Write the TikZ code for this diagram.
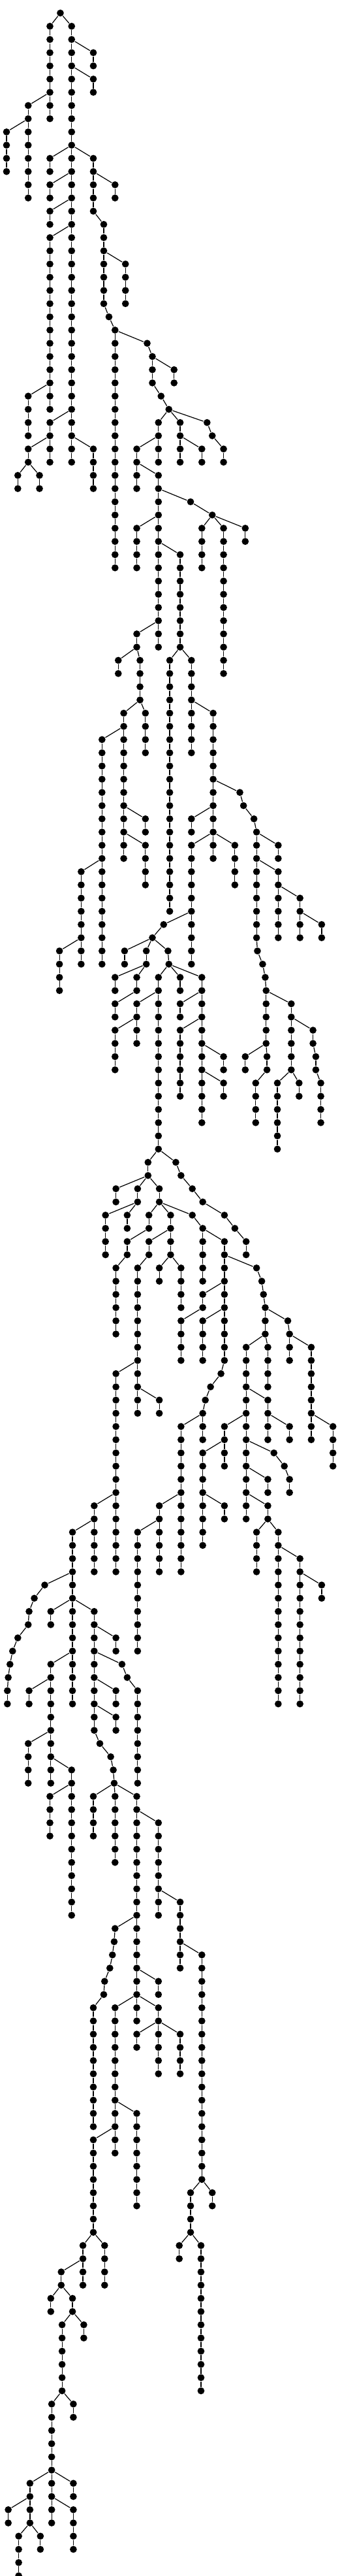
\documentclass[tikz,border=0pt]{standalone}
\tikzset{dot/.style={circle,fill=black,draw=none,inner sep=0pt,minimum size=0.107cm},
  edge/.style={line width=0.35pt,black}}
\newcommand\seg[4]{%
  \foreach \r in {#3,...,#4}{%
    \pgfmathtruncatemacro\rp{\r-1}%
    \ifnum\r=#3\relax \def\pp{#1}\else \def\pp{#2}\fi
    \node[dot] (v#2-\r) at (#2,\r+0.4934) {};
    \draw[edge] (v\pp-\rp) -- (v#2-\r);
  }%
}
\begin{document}
\begin{tikzpicture}[x=0.0033333cm,y=-0.20266cm]
\useasboundingbox (0,-0.4934) rectangle (1566,194.513);
\node[dot] (v278-0) at (278,0.4934) {};
\seg{278}{230}{1}{8}
\seg{230}{130}{7}{14}
\seg{130}{30}{9}{12}
\seg{278}{330}{1}{34}
\seg{330}{430}{3}{4}
\seg{330}{430}{5}{6}
\seg{330}{230}{11}{12}
\seg{330}{430}{11}{15}
\seg{430}{530}{13}{14}
\seg{330}{230}{13}{14}
\seg{330}{230}{15}{16}
\seg{330}{230}{17}{30}
\seg{230}{130}{29}{32}
\seg{330}{230}{31}{34}
\seg{230}{130}{33}{34}
\seg{130}{82}{35}{36}
\seg{130}{182}{35}{36}
\seg{330}{430}{33}{36}
\seg{430}{478}{16}{22}
\seg{478}{578}{19}{22}
\seg{478}{502}{23}{23}
\seg{502}{530}{24}{42}
\seg{530}{678}{25}{25}
\seg{678}{702}{26}{28}
\seg{702}{802}{27}{28}
\seg{702}{742}{29}{29}
\seg{742}{778}{30}{30}
\seg{778}{730}{31}{34}
\seg{778}{830}{31}{34}
\seg{830}{930}{33}{34}
\seg{778}{954}{31}{31}
\seg{954}{978}{32}{32}
\seg{978}{1030}{33}{34}
\seg{730}{630}{33}{36}
\seg{630}{730}{35}{48}
\seg{730}{878}{37}{37}
\seg{878}{978}{38}{38}
\seg{978}{930}{39}{42}
\seg{978}{1030}{39}{50}
\seg{978}{1130}{39}{40}
\seg{730}{630}{39}{42}
\seg{730}{830}{41}{48}
\seg{730}{630}{47}{48}
\seg{630}{545}{49}{50}
\seg{630}{645}{49}{52}
\seg{830}{782}{49}{68}
\seg{830}{882}{49}{56}
\seg{645}{570}{53}{64}
\seg{645}{670}{53}{56}
\seg{570}{470}{55}{72}
\seg{570}{670}{61}{62}
\seg{570}{670}{63}{66}
\seg{470}{374}{65}{72}
\seg{374}{274}{71}{74}
\seg{882}{982}{53}{64}
\seg{982}{1105}{59}{59}
\seg{1105}{1122}{60}{60}
\seg{1122}{1170}{61}{61}
\seg{1170}{1182}{62}{70}
\seg{1182}{1282}{63}{64}
\seg{1182}{1282}{65}{70}
\seg{1282}{1382}{67}{70}
\seg{1382}{1482}{69}{70}
\seg{982}{882}{61}{62}
\seg{982}{882}{63}{72}
\seg{982}{1082}{63}{66}
\seg{1182}{1186}{71}{71}
\seg{1186}{1210}{72}{72}
\seg{1210}{1222}{73}{73}
\seg{1222}{1226}{74}{78}
\seg{1226}{1342}{75}{80}
\seg{1226}{1130}{79}{80}
\seg{1226}{1230}{79}{80}
\seg{1230}{1178}{81}{84}
\seg{1342}{1442}{77}{78}
\seg{1442}{1455}{79}{80}
\seg{1455}{1478}{81}{84}
\seg{1342}{1278}{81}{86}
\seg{1342}{1378}{81}{82}
\seg{882}{754}{69}{69}
\seg{754}{702}{70}{70}
\seg{702}{574}{71}{72}
\seg{702}{674}{71}{72}
\seg{702}{774}{71}{71}
\seg{774}{778}{72}{72}
\seg{674}{530}{73}{74}
\seg{674}{630}{73}{74}
\seg{630}{530}{75}{76}
\seg{778}{730}{73}{86}
\seg{778}{830}{73}{74}
\seg{778}{930}{73}{84}
\seg{730}{630}{75}{78}
\seg{630}{530}{77}{80}
\seg{930}{830}{75}{76}
\seg{930}{830}{77}{82}
\seg{930}{1030}{79}{80}
\seg{930}{1030}{81}{82}
\seg{730}{682}{87}{88}
\seg{730}{810}{87}{87}
\seg{810}{834}{88}{88}
\seg{834}{886}{89}{89}
\seg{886}{934}{90}{90}
\seg{934}{1034}{91}{91}
\seg{1034}{1082}{92}{92}
\seg{1082}{1134}{93}{94}
\seg{682}{534}{89}{90}
\seg{682}{634}{89}{90}
\seg{682}{734}{89}{90}
\seg{634}{486}{91}{94}
\seg{634}{586}{91}{92}
\seg{734}{686}{91}{92}
\seg{734}{786}{91}{94}
\seg{734}{886}{91}{91}
\seg{686}{586}{93}{94}
\seg{586}{534}{95}{100}
\seg{786}{686}{93}{94}
\seg{686}{634}{95}{106}
\seg{786}{734}{95}{96}
\seg{786}{834}{95}{98}
\seg{886}{934}{92}{96}
\seg{934}{1034}{93}{102}
\seg{1034}{934}{97}{98}
\seg{934}{834}{99}{102}
\seg{1034}{934}{99}{102}
\seg{1034}{1182}{95}{95}
\seg{1182}{1206}{96}{96}
\seg{1206}{1214}{97}{97}
\seg{1214}{1222}{98}{100}
\seg{1222}{1326}{99}{99}
\seg{1326}{1334}{100}{102}
\seg{1334}{1434}{101}{108}
\seg{1434}{1534}{107}{110}
\seg{1222}{1134}{101}{114}
\seg{1222}{1234}{101}{104}
\seg{1134}{1234}{105}{108}
\seg{1234}{1334}{107}{108}
\seg{1134}{1034}{107}{110}
\seg{1034}{934}{109}{116}
\seg{934}{1034}{113}{114}
\seg{1134}{1262}{109}{109}
\seg{1262}{1310}{110}{110}
\seg{1310}{1334}{111}{112}
\seg{1134}{1234}{111}{112}
\seg{1134}{1234}{113}{114}
\seg{1234}{1182}{115}{118}
\seg{1234}{1282}{115}{128}
\seg{1282}{1382}{117}{128}
\seg{1382}{1482}{119}{120}
\seg{634}{534}{103}{118}
\seg{634}{734}{105}{106}
\seg{1034}{1018}{103}{103}
\seg{1018}{970}{104}{104}
\seg{970}{946}{105}{105}
\seg{946}{934}{106}{108}
\seg{934}{834}{107}{118}
\seg{834}{734}{113}{118}
\seg{734}{634}{115}{124}
\seg{534}{434}{113}{118}
\seg{434}{334}{115}{128}
\seg{334}{206}{119}{119}
\seg{206}{158}{120}{120}
\seg{158}{134}{121}{121}
\seg{134}{130}{122}{122}
\seg{130}{82}{123}{123}
\seg{82}{58}{124}{124}
\seg{58}{46}{125}{125}
\seg{46}{38}{126}{126}
\seg{38}{34}{127}{128}
\seg{334}{234}{121}{122}
\seg{334}{434}{121}{130}
\seg{334}{234}{125}{134}
\seg{234}{134}{127}{128}
\seg{234}{130}{131}{134}
\seg{234}{330}{133}{144}
\seg{330}{230}{135}{138}
\seg{434}{534}{123}{124}
\seg{434}{562}{125}{125}
\seg{562}{586}{126}{126}
\seg{586}{634}{127}{134}
\seg{434}{534}{127}{128}
\seg{434}{534}{129}{130}
\seg{434}{460}{131}{131}
\seg{460}{510}{132}{132}
\seg{510}{522}{133}{133}
\seg{522}{526}{134}{134}
\seg{526}{430}{135}{138}
\seg{526}{530}{135}{140}
\seg{526}{630}{135}{152}
\seg{630}{730}{137}{144}
\seg{730}{830}{143}{148}
\seg{830}{930}{147}{164}
\seg{630}{530}{145}{145}
\seg{530}{526}{146}{146}
\seg{526}{518}{147}{147}
\seg{518}{506}{148}{148}
\seg{506}{482}{149}{149}
\seg{482}{478}{150}{150}
\seg{478}{430}{151}{160}
\seg{630}{730}{149}{150}
\seg{630}{530}{151}{162}
\seg{630}{730}{151}{152}
\seg{730}{630}{153}{154}
\seg{730}{730}{153}{156}
\seg{730}{830}{153}{156}
\seg{530}{630}{159}{166}
\seg{530}{430}{161}{168}
\seg{430}{382}{169}{172}
\seg{430}{482}{169}{172}
\seg{382}{282}{171}{172}
\seg{282}{234}{173}{174}
\seg{282}{334}{173}{174}
\seg{334}{286}{175}{180}
\seg{334}{386}{175}{176}
\seg{286}{238}{181}{186}
\seg{286}{338}{181}{182}
\seg{238}{138}{187}{190}
\seg{238}{238}{187}{190}
\seg{238}{338}{187}{188}
\seg{238}{338}{189}{192}
\seg{138}{38}{189}{190}
\seg{138}{86}{191}{194}
\seg{138}{186}{191}{192}
\seg{930}{878}{165}{168}
\seg{930}{978}{165}{166}
\seg{878}{826}{169}{170}
\seg{878}{926}{169}{180}
\end{tikzpicture}
\end{document}
